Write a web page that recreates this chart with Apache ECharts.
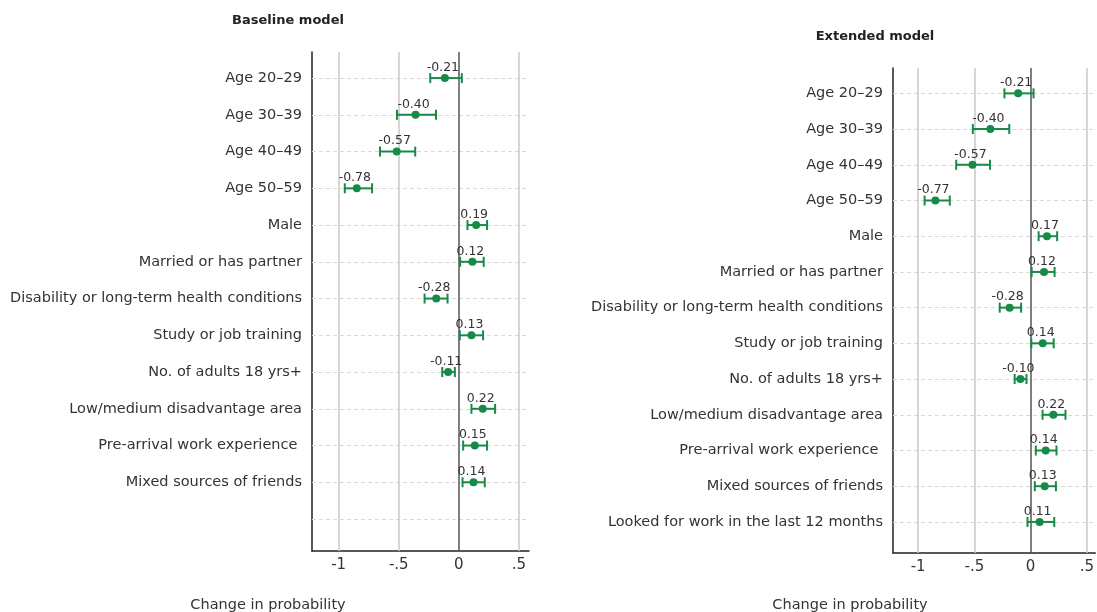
<!DOCTYPE html>
<html>
<head>
<meta charset="utf-8">
<script src="https://cdn.jsdelivr.net/npm/echarts@6/dist/echarts.min.js"></script>
<style>
html,body{margin:0;padding:0;background:#fff;}
#chart{width:1097px;height:612px;}
</style>
</head>
<body>
<div id="chart"></div>
<script>
// ---- Data ----
var baseCategories = ['Age 20\u201329','Age 30\u201339','Age 40\u201349','Age 50\u201359','Male','Married or has partner','Disability or long-term health conditions','Study or job training','No. of adults 18 yrs+','Low/medium disadvantage area','Pre-arrival work experience ','Mixed sources of friends',''];
var baseEst   = [-0.116,-0.36,-0.517,-0.849,0.144,0.113,-0.188,0.105,-0.089,0.199,0.133,0.122];
var baseLo    = [-0.238,-0.515,-0.656,-0.949,0.072,0.011,-0.285,0.008,-0.138,0.105,0.036,0.031];
var baseHi    = [0.025,-0.19,-0.363,-0.722,0.235,0.207,-0.094,0.202,-0.033,0.302,0.235,0.216];
var baseLabels= ['-0.21','-0.40','-0.57','-0.78','0.19','0.12','-0.28','0.13','-0.11','0.22','0.15','0.14'];

var extCategories = ['Age 20\u201329','Age 30\u201339','Age 40\u201349','Age 50\u201359','Male','Married or has partner','Disability or long-term health conditions','Study or job training','No. of adults 18 yrs+','Low/medium disadvantage area','Pre-arrival work experience ','Mixed sources of friends','Looked for work in the last 12 months'];
var extEst    = [-0.111,-0.358,-0.517,-0.847,0.145,0.119,-0.187,0.108,-0.091,0.202,0.134,0.125,0.08];
var extLo     = [-0.233,-0.514,-0.662,-0.943,0.071,0.009,-0.275,0.006,-0.142,0.106,0.046,0.037,-0.028];
var extHi     = [0.026,-0.19,-0.361,-0.719,0.236,0.213,-0.085,0.205,-0.037,0.31,0.23,0.225,0.21];
var extLabels = ['-0.21','-0.40','-0.57','-0.77','0.17','0.12','-0.28','0.14','-0.10','0.22','0.14','0.13','0.11'];

var xTicks = [-1,-0.5,0,0.5];
var xTickLabels = ['-1','-.5','0','.5'];
var titles = ['Baseline model','Extended model'];
var xTitle = 'Change in probability';

// ---- Styles ----
var GREEN = '#168a46';
var FONT = '"DejaVu Sans", "Noto Sans", sans-serif';
var TXT = '#333';

function rowIdx(cats){ return cats.map(function(_, i){ return i; }); }

function makePanel(k, cats, est, lo, hi, labels, grid, xMin, xMax){
  var xAxis = {
    gridIndex: k, type: 'value', min: xMin, max: xMax,
    axisLine: {show: true, onZero: false, lineStyle: {color: '#222', width: 1.5}},
    axisTick: {show: false},
    splitLine: {show: false},
    axisLabel: {
      customValues: xTicks,
      formatter: function(v){ var i = xTicks.indexOf(v); return i >= 0 ? xTickLabels[i] : ''; },
      color: TXT, fontSize: 15, fontFamily: FONT, margin: 7
    }
  };
  var yAxis = {
    gridIndex: k, type: 'value', inverse: true, min: -0.71, max: 12.87,
    axisLine: {show: true, onZero: false, lineStyle: {color: '#222', width: 1.5}},
    axisTick: {show: false},
    splitLine: {show: false},
    axisLabel: {
      customValues: rowIdx(cats),
      formatter: function(v){ return cats[Math.round(v)] || ''; },
      color: TXT, fontSize: 14.5, fontFamily: FONT, margin: 10
    }
  };
  var gridLines = xTicks.filter(function(t){ return t !== 0; }).map(function(t){
    return {xAxis: t, lineStyle: {color: '#c8c8c8', width: 1.5, type: 'solid'}};
  });
  gridLines.push({xAxis: 0, lineStyle: {color: '#555', width: 1.5, type: 'solid'}});
  var rowLines = rowIdx(cats).map(function(i){
    return {yAxis: i, lineStyle: {color: '#d8d8d8', width: 1, type: [4, 3]}};
  });
  var series = [
    {
      type: 'scatter', xAxisIndex: k, yAxisIndex: k, data: [], silent: true, z: 1,
      markLine: {silent: true, z: 1, symbol: 'none', animation: false, label: {show: false}, data: rowLines.concat(gridLines)}
    },
    {
      type: 'custom', xAxisIndex: k, yAxisIndex: k, silent: true, animation: false, z: 6,
      data: est.map(function(_, i){ return [lo[i], hi[i], i]; }),
      renderItem: function(params, api){
        var a = api.coord([api.value(0), api.value(2)]);
        var b = api.coord([api.value(1), api.value(2)]);
        var h = 5;
        var st = {stroke: GREEN, lineWidth: 2};
        return {type: 'group', children: [
          {type: 'line', shape: {x1: a[0], y1: a[1], x2: b[0], y2: b[1]}, style: st},
          {type: 'line', shape: {x1: a[0], y1: a[1]-h, x2: a[0], y2: a[1]+h}, style: st},
          {type: 'line', shape: {x1: b[0], y1: b[1]-h, x2: b[0], y2: b[1]+h}, style: st}
        ]};
      }
    },
    {
      type: 'scatter', xAxisIndex: k, yAxisIndex: k, animation: false, z: 8, silent: true,
      symbol: 'circle', symbolSize: 8,
      itemStyle: {color: GREEN, opacity: 1},
      data: est.map(function(v, i){ return [v, i]; }),
      label: {
        show: true, position: 'top', distance: 0,
        formatter: function(p){ return labels[p.dataIndex]; },
        color: TXT, fontSize: 12.5, fontFamily: FONT, offset: [-2, 0]
      }
    }
  ];
  return {grid: grid, xAxis: xAxis, yAxis: yAxis, series: series};
}

var p1 = makePanel(0, baseCategories, baseEst, baseLo, baseHi, baseLabels,
  {left: 312, right: 568, top: 52, bottom: 61, containLabel: false}, -1.222, 0.584);
var p2 = makePanel(1, extCategories, extEst, extLo, extHi, extLabels,
  {left: 893, right: -7, top: 68, bottom: 59, containLabel: false}, -1.224, 0.575);

var chart = echarts.init(document.getElementById('chart'), null, {renderer: 'canvas'});
chart.setOption({
  backgroundColor: '#fff',
  animation: false,
  title: [
    {text: titles[0], left: 283, top: 9, textAlign: 'center', textStyle: {fontFamily: FONT, fontSize: 13, fontWeight: 'bold', color: '#222'}},
    {text: titles[1], left: 870, top: 25, textAlign: 'center', textStyle: {fontFamily: FONT, fontSize: 13, fontWeight: 'bold', color: '#222'}},
    {text: xTitle, left: 263, top: 593, textAlign: 'center', textStyle: {fontFamily: FONT, fontSize: 14.5, fontWeight: 'normal', color: TXT}},
    {text: xTitle, left: 845, top: 593, textAlign: 'center', textStyle: {fontFamily: FONT, fontSize: 14.5, fontWeight: 'normal', color: TXT}}
  ],
  grid: [p1.grid, p2.grid],
  xAxis: [p1.xAxis, p2.xAxis],
  yAxis: [p1.yAxis, p2.yAxis],
  series: p1.series.concat(p2.series)
});
</script>
</body>
</html>
